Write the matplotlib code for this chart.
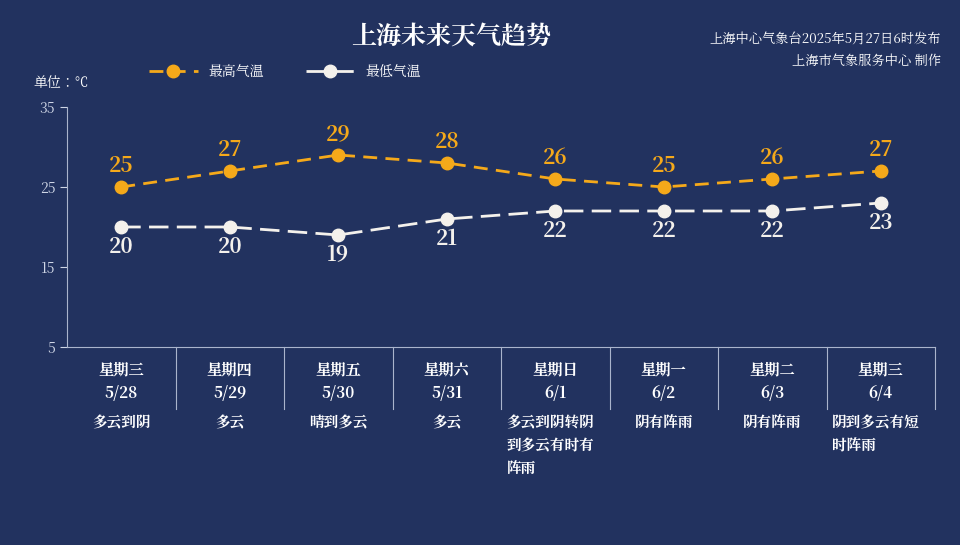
import matplotlib
matplotlib.use("Agg")
import matplotlib.pyplot as plt
from matplotlib import font_manager

weekdays = ["星期三", "星期四", "星期五", "星期六", "星期日", "星期一", "星期二", "星期三"]
dates = ["5/28", "5/29", "5/30", "5/31", "6/1", "6/2", "6/3", "6/4"]
weather = ["多云到阴", "多云", "晴到多云", "多云", "多云到阴转阴\n到多云有时有\n阵雨", "阴有阵雨", "阴有阵雨", "阴到多云有短\n时阵雨"]
high = [25, 27, 29, 28, 26, 25, 26, 27]
low = [20, 20, 19, 21, 22, 22, 22, 23]
yticks = [5, 15, 25, 35]

cjk = [f.name for f in font_manager.fontManager.ttflist if "CJK" in f.name]
fam = "Noto Sans CJK SC" if "Noto Sans CJK SC" in cjk else (cjk[0] if cjk else "DejaVu Sans")
plt.rcParams["font.family"] = [fam, "DejaVu Sans"]
bg = "#22325f"
orange = "#f5a91a"
white = "#f4f1ec"
fig = plt.figure(figsize=(9.6, 5.45), dpi=100, facecolor=bg)
ax = fig.add_axes([0.0698, 0.3633, 0.9042, 0.4404], facecolor=bg)
x = list(range(len(high)))
ax.plot(x, high, color=orange, lw=2, dashes=(5, 3), marker="o", ms=9, label="最高气温")
ax.plot(x, low, color=white, lw=2, dashes=(7, 3), marker="o", ms=9, label="最低气温")
for i in x:
    ax.text(i, high[i] + 1.1, str(high[i]), color=orange, ha="center", va="bottom", fontsize=15, fontweight="bold")
    ax.text(i, low[i] - 1.0, str(low[i]), color=white, ha="center", va="top", fontsize=15, fontweight="bold")
ax.set_xlim(-0.5, 7.5)
ax.set_ylim(5, 35)
ax.set_yticks(yticks)
ax.set_xticks([])
ax.tick_params(axis="y", colors="#cfd6e6", labelsize=10, length=5)
for s in ["top", "right"]:
    ax.spines[s].set_visible(False)
ax.spines["left"].set_color("#aab4cc")
ax.spines["bottom"].set_color("#aab4cc")
for i in x:
    ax.annotate(weekdays[i] + "\n" + dates[i], (i, 5), xytext=(0, -10), textcoords="offset points",
                ha="center", va="top", color="white", fontsize=11, fontweight="bold", linespacing=1.5, annotation_clip=False)
    multi = "\n" in weather[i]
    ax.annotate(weather[i], (i - 0.45 if multi else i, 5), xytext=(0, -49), textcoords="offset points",
                ha="left" if multi else "center", va="top", color="white", fontsize=10.5, fontweight="bold", linespacing=1.6, annotation_clip=False)
for i in range(1, 8):
    ax.plot([i - 0.5, i - 0.5], [5, -2.7], color="#aab4cc", lw=0.8, clip_on=False)
ax.plot([7.5, 7.5], [5, -2.7], color="#aab4cc", lw=0.8, clip_on=False)
leg = ax.legend(loc="upper left", bbox_to_anchor=(0.08, 1.23), ncol=2, frameon=False, fontsize=10,
                labelcolor="white", handlelength=3.5, columnspacing=3)
fig.text(0.47, 0.93, "上海未来天气趋势", color="white", fontsize=18, fontweight="bold", ha="center", va="center")
fig.text(0.98, 0.928, "上海中心气象台2025年5月27日6时发布", color="white", fontsize=9.5, ha="right", va="center")
fig.text(0.98, 0.888, "上海市气象服务中心 制作", color="white", fontsize=9.5, ha="right", va="center")
fig.text(0.035, 0.848, "单位：℃", color="white", fontsize=10, ha="left", va="center")
fig.savefig("out.png", facecolor=bg)
